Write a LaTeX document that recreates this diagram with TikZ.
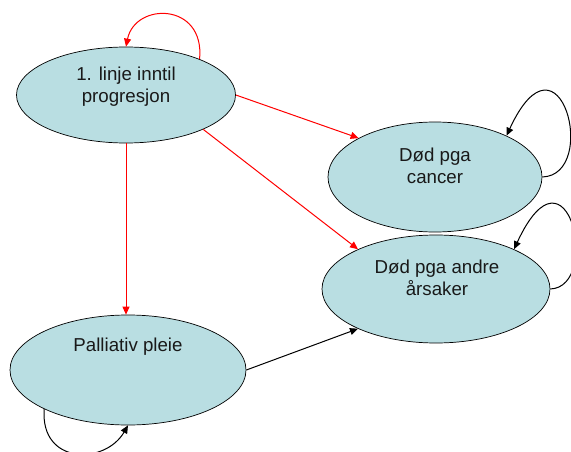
\documentclass[tikz,border=0pt]{standalone}
\usepackage{fontspec}
\setmainfont{Liberation Sans}
\usetikzlibrary{shapes.geometric,arrows.meta}
\definecolor{statefill}{RGB}{185,222,226}
\begin{document}
\begin{tikzpicture}[x=1pt,y=-1pt,
  state/.style={ellipse, draw=black, line width=0.7pt, fill=statefill, inner sep=0pt},
  lbl/.style={font=\fontsize{18.7}{22}\selectfont, align=center, text=black!90},
  redarr/.style={draw=red, line width=1pt, -{Triangle[length=8pt,width=7pt]}},
  blkarr/.style={draw=black, line width=1pt, -{Triangle[length=8pt,width=7pt]}}]
\useasboundingbox (0,0) rectangle (571,452);
\node[state, minimum width=219pt, minimum height=96pt] (A) at (126,95) {};
\node[state, minimum width=214pt, minimum height=110pt] (B) at (435,177) {};
\node[state, minimum width=228pt, minimum height=108pt] (C) at (436,289) {};
\node[state, minimum width=236pt, minimum height=110pt] (D) at (128,370) {};
\node[lbl] (At) at (126,87) {1. linje inntil\\progresjon};
\node[lbl] (Bt) at (435,166) {Død pga\\cancer};
\node[lbl] (Ct) at (437,278) {Død pga andre\\årsaker};
\node[lbl] (Dt) at (128,347) {Palliativ pleie};
% red transitions
\draw[redarr] (A.26) .. controls (205,2) and (135,2) .. (A.north);
\draw[redarr] (A.east) -- (B.153);
\draw[redarr] (A.-24) -- (C.153);
\draw[redarr] (A.south) -- (A.south |- D.north);
% black transitions
\draw[blkarr] (D.east) -- (C.207);
\draw[blkarr] (B.east) .. controls (600,175) and (560,20) .. (B.30);
\draw[blkarr] (C.east) .. controls (602,287) and (568,133) .. (C.27);
\draw[blkarr] (D.205) .. controls (40,465) and (105,465) .. (D.south);
\end{tikzpicture}
\end{document}
